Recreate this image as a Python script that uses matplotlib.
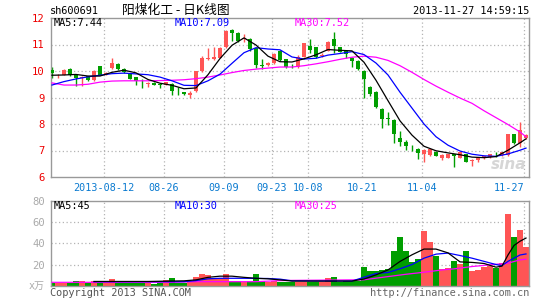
import matplotlib
matplotlib.use("Agg")
import matplotlib.pyplot as plt

# ---- data (sh600691, daily K line) ----
opens = [10.05, 9.80, 9.86, 10.08, 9.84, 9.72, 9.80, 9.66, 10.18, 9.86,
         10.11, 10.25, 10.09, 9.90, 9.77, 9.59, 9.52, 9.56, 9.52, 9.49,
         9.52, 9.30, 9.20, 9.08, 9.23, 9.99, 10.47, 10.47, 10.50, 10.89,
         11.54, 11.45, 11.20, 11.20, 10.85, 10.24, 10.21, 10.29, 10.77, 10.44,
         10.20, 10.16, 10.54, 10.96, 10.89, 10.58, 10.77, 11.21, 10.89, 10.77,
         10.50, 10.38, 10.01, 9.41, 9.20, 8.57, 8.20, 8.15, 7.49, 7.31,
         7.10, 7.04, 6.86, 6.83, 6.96, 6.70, 6.73, 6.85, 6.73, 6.86,
         6.60, 6.63, 6.70, 6.74, 6.86, 6.83, 6.83, 7.62, 7.30, 7.49]
highs = [10.15, 9.87, 10.06, 10.11, 9.86, 9.82, 9.82, 10.03, 10.20, 9.96,
         10.49, 10.30, 10.10, 9.93, 9.78, 9.71, 9.58, 9.58, 9.53, 9.60,
         9.56, 9.39, 9.22, 9.23, 10.00, 10.57, 10.87, 10.90, 10.90, 11.53,
         11.60, 11.47, 11.38, 11.25, 10.87, 10.47, 10.35, 10.69, 10.80, 10.46,
         10.25, 10.60, 11.06, 11.20, 10.92, 10.69, 11.14, 11.46, 10.90, 10.80,
         10.52, 10.40, 10.03, 9.43, 9.24, 8.59, 8.47, 8.17, 7.74, 7.40,
         7.21, 7.10, 7.04, 7.06, 6.98, 6.86, 6.88, 6.86, 6.95, 6.88,
         6.68, 6.76, 6.80, 6.88, 6.95, 6.95, 7.63, 7.64, 8.09, 7.64]
lows = [9.75, 9.75, 9.84, 9.80, 9.43, 9.45, 9.62, 9.64, 9.84, 9.84,
        10.09, 10.05, 9.93, 9.70, 9.46, 9.35, 9.39, 9.46, 9.35, 9.47,
        9.10, 9.08, 9.10, 8.97, 9.20, 9.97, 10.40, 10.40, 10.48, 10.85,
        11.12, 11.10, 11.10, 10.75, 10.11, 10.09, 10.18, 10.27, 10.38, 10.10,
        10.12, 10.10, 10.52, 10.67, 10.50, 10.51, 10.75, 10.67, 10.70, 10.50,
        10.16, 10.05, 9.00, 9.07, 8.59, 7.86, 7.96, 7.27, 7.18, 7.02,
        6.98, 6.68, 6.58, 6.80, 6.79, 6.64, 6.70, 6.39, 6.70, 6.55,
        6.43, 6.58, 6.68, 6.73, 6.76, 6.80, 6.80, 7.26, 7.14, 7.44]
closes = [9.92, 9.83, 10.04, 9.84, 9.74, 9.78, 9.65, 10.00, 9.86, 9.94,
          10.30, 10.09, 9.96, 9.71, 9.61, 9.57, 9.55, 9.49, 9.46, 9.58,
          9.23, 9.27, 9.13, 9.18, 9.99, 10.49, 10.49, 10.52, 10.87, 11.52,
          11.45, 11.15, 11.26, 10.82, 10.22, 10.20, 10.30, 10.65, 10.40, 10.16,
          10.17, 10.52, 11.04, 10.79, 10.52, 10.60, 11.11, 10.96, 10.73, 10.64,
          10.38, 10.08, 9.70, 9.12, 8.66, 8.19, 8.18, 7.61, 7.33, 7.18,
          7.08, 6.89, 7.02, 7.04, 6.81, 6.82, 6.85, 6.78, 6.93, 6.58,
          6.62, 6.73, 6.79, 6.87, 6.85, 6.93, 7.62, 7.30, 7.77, 7.58]
volumes = [2.9, 2.9, 2.9, 2.9, 4.4, 4.4, 2.9, 4.4, 2.9, 2.9,
           6.3, 2.9, 2.9, 2.9, 2.9, 2.9, 2.9, 1.6, 2.9, 5.4,
           7.3, 2.9, 2.9, 4.8, 8.3, 11.1, 10.2, 7.6, 7.0, 11.1,
           4.8, 4.8, 3.5, 4.8, 11.1, 4.8, 3.5, 4.8, 3.5, 3.5,
           3.8, 3.8, 3.2, 3.8, 3.2, 3.2, 7.0, 8.3, 3.2, 4.4,
           4.4, 4.4, 17.8, 14.0, 14.0, 14.9, 15.9, 33.0, 45.7, 33.0,
           22.2, 25.4, 51.4, 41.3, 28.3, 15.9, 17.1, 22.9, 20.3, 33.0,
           14.0, 15.0, 17.5, 18.5, 17.0, 21.0, 68.0, 46.0, 53.0, 37.0]

# moving averages as drawn, read every second session
ma_idx = list(range(0, 80, 2)) + [79]
ma5 = [9.84, 9.85, 9.87, 9.81, 9.81, 9.95, 10.03, 9.93, 9.68, 9.54,
       9.46, 9.33, 9.36, 9.86, 10.47, 10.97, 11.25, 10.98, 10.56, 10.35,
       10.34, 10.46, 10.61, 10.81, 10.78, 10.76, 10.33, 9.65, 8.88, 8.12,
       7.58, 7.16, 6.99, 6.91, 6.84, 6.75, 6.73, 6.77, 7.01, 7.29, 7.44]
ma10 = [9.47, 9.60, 9.70, 9.78, 9.84, 9.90, 9.92, 9.89, 9.86, 9.77,
        9.63, 9.46, 9.45, 9.63, 9.88, 10.29, 10.69, 10.88, 10.83, 10.80,
        10.53, 10.45, 10.48, 10.60, 10.66, 10.73, 10.62, 10.30, 9.85, 9.20,
        8.60, 8.00, 7.52, 7.20, 6.98, 6.86, 6.80, 6.78, 6.87, 7.01, 7.09]
ma30 = [9.55, 9.47, 9.47, 9.50, 9.58, 9.62, 9.63, 9.63, 9.63, 9.64,
        9.65, 9.67, 9.71, 9.77, 9.85, 9.94, 10.02, 10.07, 10.11, 10.15,
        10.15, 10.20, 10.27, 10.35, 10.44, 10.52, 10.56, 10.52, 10.40, 10.20,
        9.95, 9.68, 9.43, 9.20, 8.98, 8.78, 8.50, 8.24, 7.98, 7.70, 7.52]

vol_ma5_idx = [7, 12, 16, 20, 22, 24, 26, 28, 30, 32, 34, 36, 38, 40, 44, 48, 50,
               52, 54, 56, 58, 60, 62, 64, 66, 68, 70, 72, 74, 75, 76, 77, 78, 79]
vol_ma5 = [4.0, 4.0, 4.0, 4.4, 4.6, 5.5, 7.9, 9.0, 9.0, 7.9, 7.0, 6.5, 5.5, 4.4, 4.4, 4.4, 4.4,
           6.3, 10.2, 14.9, 22.9, 29.2, 34.6, 34.6, 31.0, 22.5, 22.0, 21.0, 17.5, 18.5, 29.0, 38.0, 42.0, 45.0]
vol_ma10_idx = [7, 12, 16, 20, 22, 24, 26, 28, 32, 36, 38, 40, 44, 50, 52,
                54, 56, 58, 60, 62, 64, 66, 68, 70, 72, 74, 75, 76, 78, 79]
vol_ma10 = [3.8, 3.8, 3.8, 3.8, 3.8, 4.8, 6.5, 7.0, 7.0, 6.8, 6.2, 4.6, 4.4, 4.4, 8.0,
            11.5, 12.5, 16.0, 20.0, 26.0, 29.8, 30.8, 28.5, 26.0, 23.0, 20.0, 19.0, 23.0, 29.0, 30.0]
vol_ma30_idx = [0, 10, 20, 24, 30, 34, 38, 40, 44, 48, 52, 56, 59, 62, 65, 67, 70, 73, 76, 78, 79]
vol_ma30 = [3.2, 3.2, 3.2, 3.8, 3.8, 3.8, 4.8, 5.0, 5.2, 5.4, 5.6, 8.6, 10.8, 12.7, 14.9, 15.9,
            18.1, 19.7, 21.3, 24.4, 25.0]

date_idx = [9, 19, 29, 37, 43, 52, 62, 79]
date_labels = ["2013-08-12", "08-26", "09-09", "09-23", "10-08", "10-21", "11-04", "11-27"]
price_ticks = [6, 7, 8, 9, 10, 11, 12]
vol_ticks = [20, 40, 60, 80]

UP = "#ff5555"
DOWN = "#009e00"
GRID = "#b4b4b4"
FRAME = "#999999"
MONO = "DejaVu Sans Mono"
CJK = ["Noto Sans CJK SC", "DejaVu Sans"]

W, H = 545, 300
fig = plt.figure(figsize=(W / 100, H / 100), dpi=100)
fig.patch.set_facecolor("white")


def px_axes(left, top, right, bottom):
    return fig.add_axes([left / W, 1 - bottom / H, (right - left) / W, (bottom - top) / H])


ax = px_axes(50.5, 18, 529, 177)
axv = px_axes(50.5, 201, 529, 285.7)

n = len(closes)
colors = [UP if c >= o else DOWN for o, c in zip(opens, closes)]
grid_x = [i - 0.33 for i in date_idx]

for a in (ax, axv):
    a.set_xlim(-0.25, 79.5)
    for s in a.spines.values():
        s.set_color(FRAME)
        s.set_linewidth(1.0)
    for gx in grid_x:
        a.axvline(gx, color=GRID, lw=0.9, ls=(0, (1, 2)), zorder=0)
    a.tick_params(length=0)

# price panel
ax.set_ylim(6, 12)
for p in price_ticks[1:-1]:
    ax.axhline(p, color=GRID, lw=0.9, ls=(0, (1, 2)), zorder=0)
for i in range(n):
    ax.vlines(i, lows[i], highs[i], color=colors[i], lw=1.0, zorder=2)
    bottom = min(opens[i], closes[i])
    height = max(abs(closes[i] - opens[i]), 0.03)
    ax.bar(i, height, bottom=bottom, width=0.72, color=colors[i], lw=0, zorder=3)
ax.plot(ma_idx, ma30, color="#ff00ff", lw=0.9, zorder=4)
ax.plot(ma_idx, ma10, color="#0000ff", lw=0.9, zorder=4)
ax.plot(ma_idx, ma5, color="black", lw=0.9, zorder=5)

ax.set_yticks(price_ticks)
ax.set_yticklabels([str(p) for p in price_ticks], color="#ee0000", family=MONO, fontsize=7.6)
ax.tick_params(axis="y", pad=4)
ax.set_xticks(grid_x)
ax.set_xticklabels(date_labels, color="#0a7ad0", family=MONO, fontsize=7.3)
ax.tick_params(axis="x", pad=4)
ax.get_xticklabels()[-1].set_horizontalalignment("right")
ax.text(0.995, 0.03, "sina", transform=ax.transAxes, ha="right", va="bottom",
        fontsize=11, fontstyle="italic", fontweight="bold", color="#d6d6d6", zorder=1)

# volume panel
axv.set_ylim(0, 80)
for v in vol_ticks[:-1]:
    axv.axhline(v, color=GRID, lw=0.9, ls=(0, (1, 2)), zorder=0)
axv.bar(range(n), volumes, width=0.86, color=colors, lw=0, zorder=2)
axv.plot(vol_ma30_idx, vol_ma30, color="#ff00ff", lw=0.9, zorder=4)
axv.plot(vol_ma10_idx, vol_ma10, color="#0000ff", lw=0.9, zorder=4)
axv.plot(vol_ma5_idx, vol_ma5, color="black", lw=0.9, zorder=5)
axv.set_yticks(vol_ticks)
axv.set_yticklabels([str(v) for v in vol_ticks], color="#aaaaaa", family=MONO, fontsize=7.6)
axv.tick_params(axis="y", pad=4)
axv.set_xticks([])

# header and legends
fig.text(50 / W, 1 - 11 / H, "sh600691", family=MONO, fontsize=7.4, va="center", ha="left")
fig.text(176 / W, 1 - 10.5 / H, "阳煤化工 - 日K线图", family=CJK, fontsize=9.2, va="center", ha="center")
fig.text(529 / W, 1 - 11 / H, "2013-11-27 14:59:15", family=MONO, fontsize=7.4, va="center", ha="right")

fig.text(54 / W, 1 - 23.5 / H, "MA5:7.44", family=MONO, fontsize=7.4, va="center", color="black")
fig.text(175 / W, 1 - 23.5 / H, "MA10:7.09", family=MONO, fontsize=7.4, va="center", color="#0000ff")
fig.text(295 / W, 1 - 23.5 / H, "MA30:7.52", family=MONO, fontsize=7.4, va="center", color="#ff00ff")

fig.text(54 / W, 1 - 206 / H, "MA5:45", family=MONO, fontsize=7.4, va="center", color="black")
fig.text(175 / W, 1 - 206 / H, "MA10:30", family=MONO, fontsize=7.4, va="center", color="#0000ff")
fig.text(295 / W, 1 - 206 / H, "MA30:25", family=MONO, fontsize=7.4, va="center", color="#ff00ff")

fig.text(45 / W, 1 - 286 / H, "x万", family=[MONO, "Noto Sans CJK SC"], fontsize=7.2,
         va="center", ha="right", color="#aaaaaa")
fig.text(50 / W, 1 - 293 / H, "Copyright 2013 SINA.COM", family=MONO, fontsize=7.4,
         va="center", ha="left", color="#555555")
fig.text(529 / W, 1 - 293 / H, "http://finance.sina.com.cn", family=MONO, fontsize=7.4,
         va="center", ha="right", color="#666666")

fig.savefig("out.png", dpi=100)
